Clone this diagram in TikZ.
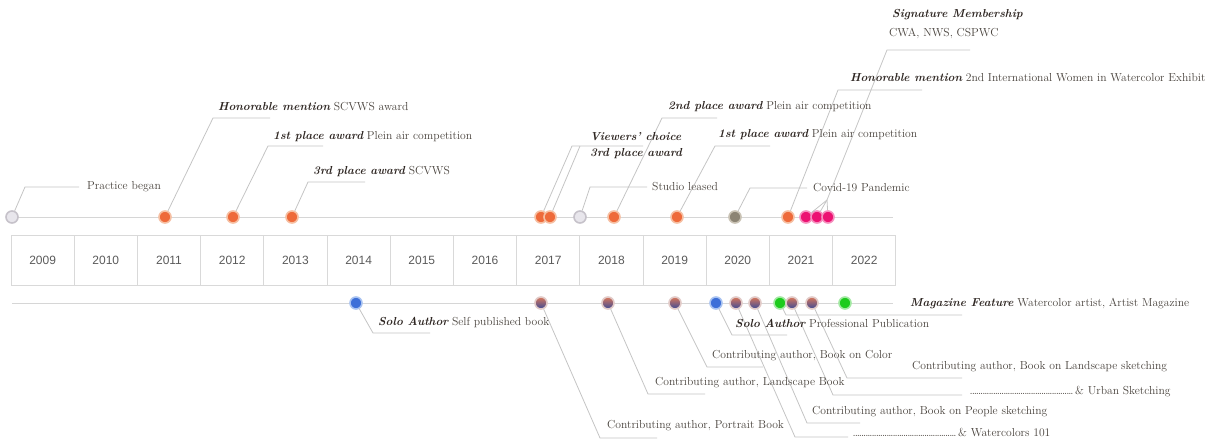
\documentclass[tikz,border=0pt]{standalone}
\usepackage{fontspec}
\newfontfamily\yearfont{Liberation Sans}
\usetikzlibrary{calc}

\definecolor{axisgray}{HTML}{D6D6D6}
\definecolor{leadgray}{HTML}{C4C4C4}
\definecolor{boxgray}{HTML}{D9D9D9}
\definecolor{yeargray}{HTML}{5A5A5A}
\definecolor{txtgray}{HTML}{48423C}
\definecolor{emgray}{HTML}{2E2622}
\definecolor{awardfill}{HTML}{EE6A3A}
\definecolor{awardhalo}{HTML}{F6BFA2}
\definecolor{blankfill}{HTML}{E8E6EC}
\definecolor{blankhalo}{HTML}{C6C2CA}
\definecolor{covidfill}{HTML}{8C8474}
\definecolor{covidhalo}{HTML}{C9C2B4}
\definecolor{memberfill}{HTML}{EC1272}
\definecolor{memberhalo}{HTML}{F58FBE}
\definecolor{solofill}{HTML}{3D6FD8}
\definecolor{solohalo}{HTML}{A9C3F1}
\definecolor{contribtop}{HTML}{D9775A}
\definecolor{contribbot}{HTML}{3A4A98}
\definecolor{contribhalo}{HTML}{E2CBC8}
\definecolor{featurefill}{HTML}{1DCB1D}
\definecolor{featurehalo}{HTML}{A2E9A2}

\newcommand{\emtxt}[1]{{\bfseries\itshape\color{emgray}#1}}
\newcommand{\dotrun}{\hbox to 105pt{\leaders\hbox to 2.1pt{\hss.\hss}\hfill}}

\tikzstyle{timeline} = [draw=axisgray, line width=1pt]
\tikzstyle{yearbox} = [rectangle, minimum width=63.2pt, minimum height=50pt, text centered, draw=boxgray, line width=0.8pt, text=yeargray, font=\yearfont\fontsize{12}{14}\selectfont]
\tikzstyle{ball} = [circle, minimum size=12pt, inner sep=0pt, line width=1.6pt]
\tikzstyle{award} = [ball, fill=awardfill, draw=awardhalo]
\tikzstyle{blank} = [ball, fill=blankfill, draw=blankhalo]
\tikzstyle{covid} = [ball, fill=covidfill, draw=covidhalo]
\tikzstyle{member} = [ball, fill=memberfill, draw=memberhalo]
\tikzstyle{solo} = [ball, fill=solofill, draw=solohalo]
\tikzstyle{contrib} = [ball, top color=contribtop, bottom color=contribbot, draw=contribhalo]
\tikzstyle{feature} = [ball, fill=featurefill, draw=featurehalo]
\tikzstyle{txt} = [anchor=west, inner sep=0pt, text=txtgray, font=\fontsize{11.6}{14}\selectfont]
\tikzstyle{leader} = [draw=leadgray, line width=0.8pt]

\begin{document}
\begin{tikzpicture}[x=1pt, y=-1pt]
	\useasboundingbox (0,0) rectangle (1207,440);
	\coordinate (topL) at (12,217);
	\coordinate (topR) at (893,217);
	\coordinate (botL) at (12,303);
	\coordinate (botR) at (893,303);
	\draw [timeline] (topL) -- (topR);
	\draw [timeline] (botL) -- (botR);
	\foreach \yr [count=\i from 0] in {2009,...,2022}
		\node (y\yr) [yearbox] at (42.6+63.2*\i, 260.5) {\yr};

	% awards and events
	\node (p09) [blank] at (12,217) {};
	\node (a11) [award] at (165,217) {};
	\node (a12) [award] at (233,217) {};
	\node (a13) [award] at (292,217) {};
	\node (v17) [award] at (541,217) {};
	\node (a17) [award] at (550,217) {};
	\node (s18) [blank] at (580,217) {};
	\node (a18) [award] at (614,217) {};
	\node (a19) [award] at (677,217) {};
	\node (c20) [covid] at (735,217) {};
	\node (a21) [award] at (788,217) {};
	\node (m1) [member] at (806,217) {};
	\node (m2) [member] at (817,217) {};
	\node (m3) [member] at (828,217) {};

	% publications
	\node (b14) [solo] at (356,303) {};
	\node (b17) [contrib] at (541,303) {};
	\node (b18) [contrib] at (608,303) {};
	\node (b19) [contrib] at (675,303) {};
	\node (b20) [solo] at (716,303) {};
	\node (w20) [contrib] at (736,303) {};
	\node (p20) [contrib] at (755,303) {};
	\node (f21) [feature] at (780,303) {};
	\node (u21) [contrib] at (792,303) {};
	\node (l21) [contrib] at (812,303) {};
	\node (f22) [feature] at (845,303) {};

	\foreach \n/\kx/\ky/\ex in {p09/25/187/79, a11/213/118/270, a12/268/146/323, a13/308/182/365,
		v17/572/146/643, s18/590/187/647, a18/662/118/717, a19/715/146/770, c20/750/188/807, a21/838/90/922,
		b14/373/333/430, b17/600/438/657, b18/648/394/705, b19/707/367/763, b20/732/335/787,
		w20/795/437/848, p20/807/423/860, f21/786/315/962, u21/833/395/962, l21/847/378/962}
	{
		\coordinate (k\n) at (\kx,\ky);
		\coordinate (e\n) at (\ex,\ky);
		\draw [leader] (\n) -- (k\n) -- (e\n);
	}
	\coordinate (ka17) at (580,146);
	\draw [leader] (a17) -- (ka17);
	\coordinate (kmem) at (827,200);
	\coordinate (jmem) at (887,50);
	\coordinate (emem) at (970,50);
	\draw [leader] (m1) -- (kmem);
	\draw [leader] (m2) -- (kmem);
	\draw [leader] (m3) -- (kmem) -- (jmem) -- (emem);

	\node (tp09) [txt] at (87,187) {Practice began};
	\node (ta11) [txt] at (218,107) {\emtxt{Honorable mention} SCVWS award};
	\node (ta12) [txt] at (273,137) {\emtxt{1st place award} Plein air competition};
	\node (ta13) [txt] at (313,172) {\emtxt{3rd place award} SCVWS};
	\node (tv17) [txt] at (590,137) {\emtxt{Viewers' choice}};
	\node (ta17) [txt] at (590,154) {\emtxt{3rd place award}};
	\node (ts18) [txt] at (652,187) {Studio leased};
	\node (ta18) [txt] at (668,107) {\emtxt{2nd place award} Plein air competition};
	\node (ta19) [txt] at (718,135) {\emtxt{1st place award} Plein air competition};
	\node (tc20) [txt] at (813,188) {Covid-19 Pandemic};
	\node (ta21) [txt] at (850,78) {\emtxt{Honorable mention} 2nd International Women in Watercolor Exhibit};
	\node (tmem) [txt] at (892,15) {\emtxt{Signature Membership}};
	\node (tmem2) [txt] at (889,33) {CWA, NWS, CSPWC};

	\node (tb14) [txt] at (378,322) {\emtxt{Solo Author} Self published book};
	\node (tb17) [txt] at (607,426) {Contributing author, Portrait Book};
	\node (tb18) [txt] at (655,383) {Contributing author, Landscape Book};
	\node (tb19) [txt] at (712,356) {Contributing author, Book on Color};
	\node (tb20) [txt] at (735,323) {\emtxt{Solo Author} Professional Publication};
	\node (tp20) [txt] at (812,412) {Contributing author, Book on People sketching};
	\node (tw20) [txt] at (853,432) {\dotrun\& Watercolors 101};
	\node (tl21) [txt] at (912,367) {Contributing author, Book on Landscape sketching};
	\node (tu21) [txt] at (970,392) {\dotrun\& Urban Sketching};
	\node (tf21) [txt] at (910,304) {\emtxt{Magazine Feature} Watercolor artist, Artist Magazine};
\end{tikzpicture}
\end{document}
